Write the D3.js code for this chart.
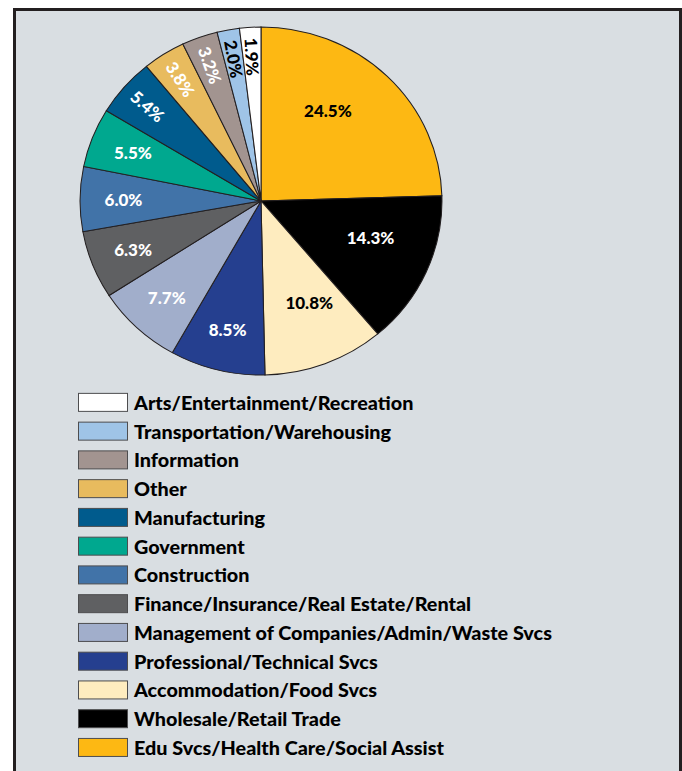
<!DOCTYPE html>
<html lang="en">
<head>
<meta charset="utf-8">
<title>Employment by industry</title>
<script src="https://d3js.org/d3.v7.min.js"></script>
<style>
  body { margin: 0; background: #fff; }
  .pct { font-family: Lato, "Open Sans", sans-serif; font-weight: 900; font-size: 17px; }
  .legend-text { font-family: Lato, "Open Sans", sans-serif; font-weight: 900; font-size: 19.8px; fill: #000; }
</style>
</head>
<body>
<div id="chart"></div>
<script>
// pie order, clockwise from 12 o'clock
var categories = ["Edu Svcs/Health Care/Social Assist", "Wholesale/Retail Trade", "Accommodation/Food Svcs",
  "Professional/Technical Svcs", "Management of Companies/Admin/Waste Svcs", "Finance/Insurance/Real Estate/Rental",
  "Construction", "Government", "Manufacturing", "Other", "Information", "Transportation/Warehousing",
  "Arts/Entertainment/Recreation"];
var shares = [24.5, 14.3, 10.8, 8.5, 7.7, 6.3, 6.0, 5.5, 5.4, 3.8, 3.2, 2.0, 1.9];

var fills = ["#fdb813", "#000000", "#feecbf", "#253f8f", "#a1aecb", "#5f6062", "#4173a8", "#00a88f",
  "#005b8d", "#e8bb5e", "#a29490", "#9fc4e7", "#ffffff"];
var inks = ["#000", "#fff", "#000", "#fff", "#fff", "#fff", "#fff", "#fff", "#fff", "#fff", "#fff", "#000", "#000"];

var width = 682, height = 771;
var cx = 261, cy = 201, r = 174, stretch = 1.04;

var svg = d3.select("#chart").append("svg")
  .attr("width", width)
  .attr("height", height);

// panel
svg.append("rect")
  .attr("x", 14.5).attr("y", 9.5)
  .attr("width", 666).attr("height", 820)
  .attr("fill", "#d9dee2")
  .attr("stroke", "#231f20")
  .attr("stroke-width", 3);

var rows = categories.map(function(c, i) {
  return { name: c, value: shares[i], fill: fills[i], ink: inks[i] };
});

var pie = d3.pie().sort(null).value(function(d) { return d.value; });
var arcs = pie(rows);

var arc = d3.arc().innerRadius(0).outerRadius(r);

svg.append("g")
  .attr("transform", "translate(" + cx + "," + cy + ") scale(" + stretch + ",1)")
  .selectAll("path")
  .data(arcs)
  .enter().append("path")
  .attr("d", arc)
  .attr("fill", function(d) { return d.data.fill; })
  .attr("stroke", "#231f20")
  .attr("stroke-width", 1);

function labelRadius(d) {
  if (d.data.value < 5.45) return r * 0.83;
  if (d.data.value > 10) return r * 0.64;
  return r * 0.76;
}

var labels = svg.append("g")
  .attr("transform", "translate(" + cx + "," + cy + ")");

labels.selectAll("text")
  .data(arcs)
  .enter().append("text")
  .attr("class", "pct")
  .attr("fill", function(d) { return d.data.ink; })
  .attr("text-anchor", "middle")
  .attr("dominant-baseline", "central")
  .attr("transform", function(d) {
    var a = (d.startAngle + d.endAngle) / 2;
    // big wedges carry their label a little before the middle
    if (d.data.value > 10) a = d.startAngle + (d.endAngle - d.startAngle) * 0.4;
    var rr = labelRadius(d);
    var x = Math.sin(a) * rr * stretch, y = -Math.cos(a) * rr;
    var t = "translate(" + x + "," + y + ")";
    if (d.data.value < 5.45) t += " rotate(" + (a * 180 / Math.PI - 270) + ")";
    return t;
  })
  .text(function(d) { return d.data.value.toFixed(1) + "%"; });

// legend, reverse of pie order
var legendRows = rows.slice().reverse();
var y = d3.scaleBand()
  .domain(legendRows.map(function(d) { return d.name; }))
  .range([390, 760])
  .paddingInner(0.3333)
  .paddingOuter(0.1);

var legend = svg.append("g");
var item = legend.selectAll("g")
  .data(legendRows)
  .enter().append("g")
  .attr("transform", function(d) { return "translate(0," + y(d.name) + ")"; });

item.append("rect")
  .attr("x", 78.5).attr("y", 0.5)
  .attr("width", 49).attr("height", 18)
  .attr("fill", function(d) { return d.fill; })
  .attr("stroke", "#4d4d4f")
  .attr("stroke-width", 1);

item.append("text")
  .attr("class", "legend-text")
  .attr("x", 134)
  .attr("y", 17)
  .text(function(d) { return d.name; });
</script>
</body>
</html>
